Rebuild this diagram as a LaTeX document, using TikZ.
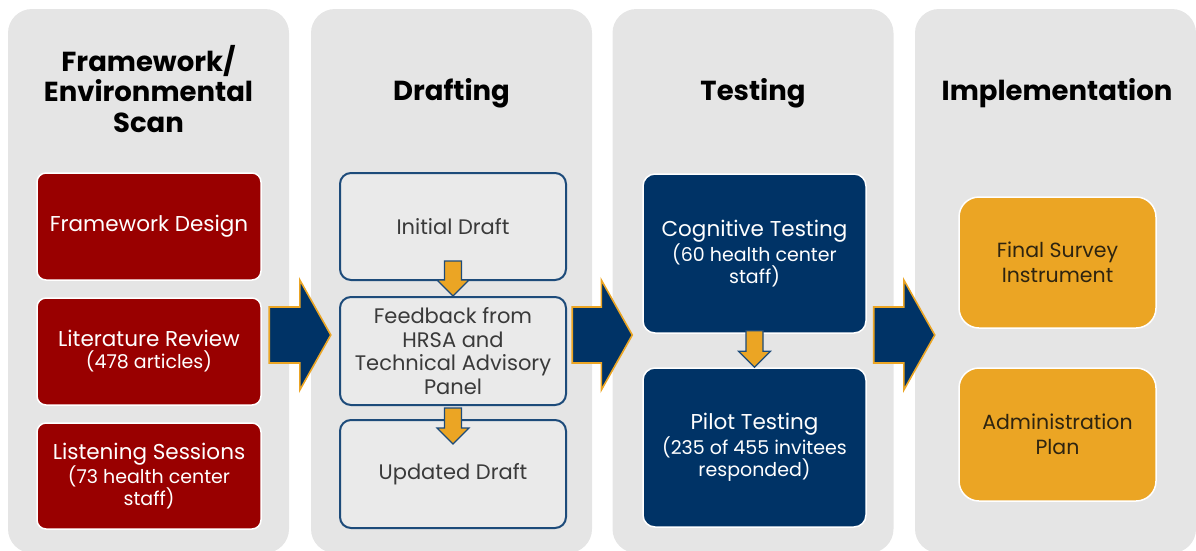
\documentclass[tikz,border=0pt]{standalone}
\usepackage{fontspec}
\setmainfont{Poppins}
\usetikzlibrary{calc}
\definecolor{panelgray}{HTML}{E5E5E5}
\definecolor{boxred}{HTML}{990000}
\definecolor{navy}{HTML}{003366}
\definecolor{gold}{HTML}{EBA524}
\definecolor{draftline}{HTML}{1D4B7A}
\definecolor{draftfill}{HTML}{EAEAEA}
\definecolor{drafttext}{HTML}{3A3A3A}
\definecolor{goldtext}{HTML}{2E2410}

\tikzset{
  panel/.style={fill=panelgray, draw=none, rounded corners=24pt, inner sep=0pt,
    minimum width=281pt, minimum height=544pt},
  paneltitle/.style={font=\bfseries\fontsize{27.5}{30.5}\selectfont, align=center, inner sep=0pt},
  boxtext/.style={font=\fontsize{21.5}{22}\selectfont, align=center, inner sep=0pt},
  redbox/.style={boxtext, fill=boxred, draw=white, line width=1.5pt, rounded corners=9pt,
    minimum width=224pt, text=white},
  draftbox/.style={boxtext, font=\fontsize{21}{23.5}\selectfont, fill=draftfill, draw=draftline,
    line width=2pt, rounded corners=11pt, minimum width=226pt, text=drafttext},
  navybox/.style={boxtext, fill=navy, draw=white, line width=1.5pt, rounded corners=12pt,
    minimum width=223pt, minimum height=159pt, text=white},
  goldbox/.style={boxtext, font=\fontsize{20.5}{25}\selectfont, fill=gold, draw=white,
    line width=1.5pt, rounded corners=20pt, minimum width=197pt, text=goldtext},
  smallarrow/.style={fill=gold, draw=draftline, line width=1.2pt},
  bigarrow/.style={fill=navy, draw=gold, line width=1.6pt},
}
\newcommand{\subline}[1]{{\fontsize{19}{21.5}\selectfont #1}}
% block arrow pointing down: from-anchor, shaft start above it, to-anchor, tip below it
\newcommand{\smallflow}[4]{%
  \path[smallarrow] let \p1=(#1), \p2=(#3) in
    (\x1-8.5pt,\y1+#2pt) -- (\x1+8.5pt,\y1+#2pt) -- (\x1+8.5pt,\y2-#4pt+16pt)
    -- (\x1+16pt,\y2-#4pt+16pt) -- (\x1,\y2-#4pt) -- (\x1-16pt,\y2-#4pt+16pt)
    -- (\x1-8.5pt,\y2-#4pt+16pt) -- cycle;}
% wide block arrow between two panels
\newcommand{\bigflow}[2]{%
  \path[bigarrow] let \p1=(#1.east), \p2=(#2.west), \p3=(0,335) in
    (\x1-20pt,\y3+28pt) -- (\x2-11pt,\y3+28pt) -- (\x2-11pt,\y3+55pt)
    -- (\x2+20pt,\y3) -- (\x2-11pt,\y3-55pt) -- (\x2-11pt,\y3-28pt)
    -- (\x1-20pt,\y3-28pt) -- cycle;}

\begin{document}
\begin{tikzpicture}[x=1pt,y=-1pt]
\useasboundingbox (0,0) rectangle (1196,550);

% stage panels
\node[panel] (p1) at (148.5,281) {};
\node[panel] (p2) at (451.5,281) {};
\node[panel] (p3) at (753,281) {};
\node[panel] (p4) at (1055.5,281) {};

% stage titles
\node[paneltitle] (t1) at (148.5,89) {Framework/\\Environmental\\Scan};
\node[paneltitle, anchor=base] (t2) at (451.5,100) {Drafting};
\node[paneltitle, anchor=base] (t3) at (753,100) {Testing};
\node[paneltitle, anchor=base] (t4) at (1057,100) {Implementation};

% framework / environmental scan
\node[redbox, minimum height=107pt] (fd) at (149,226.5) {Framework Design};
\node[redbox, minimum height=107pt] (lr) at (149,351.5) {Literature Review\\\subline{(478 articles)}};
\node[redbox, minimum height=106pt] (ls) at (149,476) {Listening Sessions\\\subline{(73 health center}\\\subline{staff)}};

% drafting
\node[draftbox, minimum height=107pt] (id) at (453,226.5) {Initial Draft};
\node[draftbox, minimum height=108pt] (fb) at (453,351) {Feedback from\\HRSA and\\Technical Advisory\\Panel};
\node[draftbox, minimum height=108pt] (ud) at (453,474) {Updated Draft};
\smallflow{id.south}{20}{fb.north}{0}
\smallflow{fb.south}{-2}{ud.north}{25}

% testing
\node[navybox] (ct) at (754.5,253.5) {Cognitive Testing\\\subline{(60 health center}\\\subline{staff)}};
\node[navybox] (pt) at (754.5,447.5) {Pilot Testing\\\subline{(235 of 455 invitees}\\\subline{responded)}};
\smallflow{ct.south}{3}{pt.north}{0}

% implementation
\node[goldbox, minimum height=131pt] (fs) at (1057.5,262.5) {Final Survey\\Instrument};
\node[goldbox, minimum height=133pt] (ap) at (1057.5,434.5) {Administration\\Plan};

% flow between stages
\bigflow{p1}{p2}
\bigflow{p2}{p3}
\bigflow{p3}{p4}
\end{tikzpicture}
\end{document}
